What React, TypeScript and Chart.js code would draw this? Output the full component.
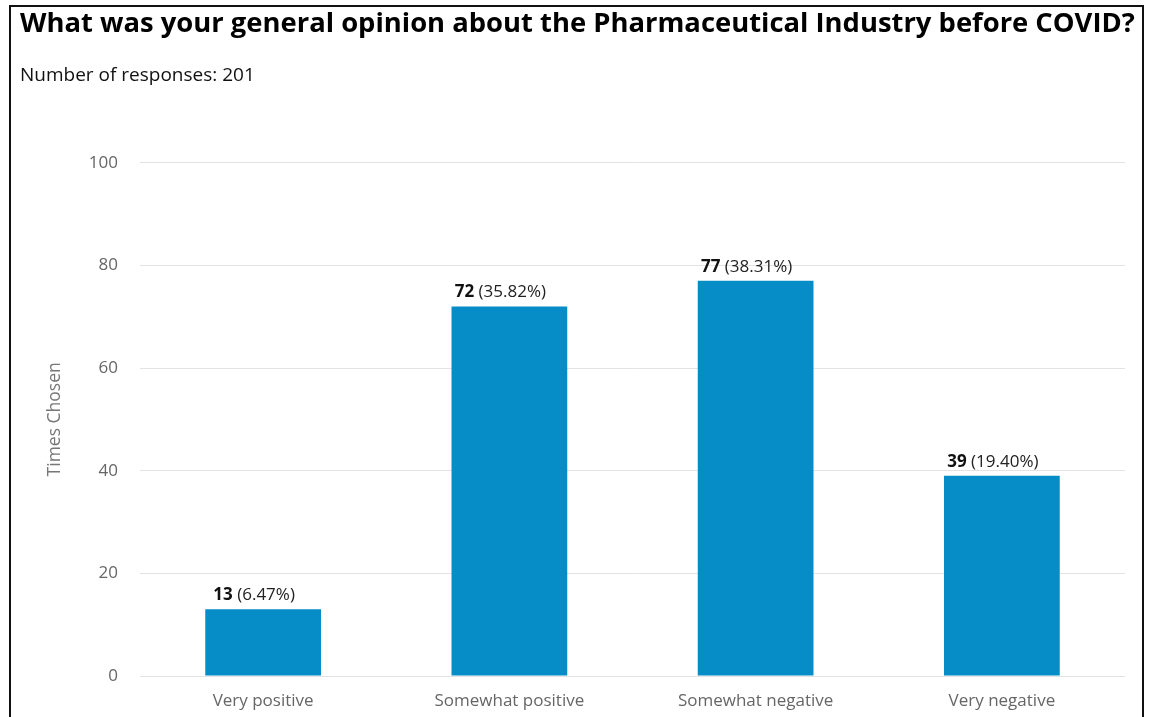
import React, { useEffect, useRef } from "react";
import { Chart, registerables } from "chart.js";

Chart.register(...registerables);

const titleText = "What was your general opinion about the Pharmaceutical Industry before COVID?";
const subtitleText = "Number of responses: 201";
const categories = ["Very positive", "Somewhat positive", "Somewhat negative", "Very negative"];
const counts = [13, 72, 77, 39];
const percents = ["6.47%", "35.82%", "38.31%", "19.40%"];
const yTicks = [0, 20, 40, 60, 80, 100];
const yAxisTitle = "Times Chosen";

const FONT = "'Open Sans', 'Noto Sans', sans-serif";

const barLabelPlugin = {
  id: "barLabels",
  afterDatasetsDraw(chart: any) {
    const ctx = chart.ctx;
    const meta = chart.getDatasetMeta(0);
    ctx.save();
    ctx.textBaseline = "middle";
    ctx.textAlign = "left";
    meta.data.forEach((bar: any, i: number) => {
      const boldPart = String(counts[i]);
      const normPart = " (" + percents[i] + ")";
      ctx.font = `bold 17px ${FONT}`;
      const wb = ctx.measureText(boldPart).width;
      ctx.font = `17px ${FONT}`;
      const wn = ctx.measureText(normPart).width;
      const total = wb + wn;
      const x0 = bar.x - 9 - total / 2;
      const y = bar.y - 14;
      ctx.fillStyle = "#111";
      ctx.font = `bold 17px ${FONT}`;
      ctx.fillText(boldPart, x0, y);
      ctx.font = `17px ${FONT}`;
      ctx.fillStyle = "#222";
      ctx.fillText(normPart, x0 + wb, y);
    });
    ctx.restore();
  },
};

export default function App() {
  const canvasRef = useRef<HTMLCanvasElement | null>(null);

  useEffect(() => {
    document.body.style.margin = "0";
    document.body.style.overflow = "hidden";
    const canvas = canvasRef.current;
    if (!canvas) return;
    const chart = new Chart(canvas, {
      type: "bar",
      data: {
        labels: categories,
        datasets: [
          {
            data: counts,
            backgroundColor: "#068DC8",
            borderWidth: 0,
            categoryPercentage: 1,
            barPercentage: 0.47,
            yAxisID: "y",
          },
        ],
      },
      options: {
        responsive: false,
        animation: false,
        devicePixelRatio: 1,
        layout: { padding: { left: 20, right: 7, top: 0, bottom: 0 } },
        plugins: {
          legend: { display: false },
          tooltip: { enabled: false },
          title: {
            display: true,
            text: titleText,
            align: "start",
            color: "#000",
            font: { family: FONT, size: 27.4, weight: "bold", lineHeight: 1.2 },
            padding: { top: 8, bottom: 0 },
          },
          subtitle: {
            display: true,
            text: subtitleText,
            align: "start",
            color: "#111",
            font: { family: FONT, size: 19, weight: "normal", lineHeight: 1.2 },
            padding: { top: 23, bottom: 76 },
          },
        },
        scales: {
          x: {
            grid: { display: false },
            border: { display: false },
            ticks: {
              color: "#666",
              font: { family: FONT, size: 17 },
              padding: 7,
              maxRotation: 0,
            },
            afterFit(scale: any) {
              scale.height = 41;
            },
          },
          y: {
            min: 0,
            max: 100,
            afterBuildTicks(scale: any) {
              scale.ticks = yTicks.map((v) => ({ value: v }));
            },
            grid: { color: "#e3e3e3", drawTicks: false, lineWidth: 1 },
            border: { display: false },
            ticks: {
              color: "#666",
              font: { family: FONT, size: 17 },
              padding: 22,
            },
            title: {
              display: true,
              text: yAxisTitle,
              color: "#777",
              font: { family: FONT, size: 17.5 },
              padding: { top: 25, bottom: 0 },
            },
            afterFit(scale: any) {
              scale.width = 120;
            },
          },
          yRight: {
            type: "linear",
            position: "right",
            min: 0,
            max: 100,
            grid: { display: false },
            border: { display: false },
            ticks: { display: false },
            afterFit(scale: any) {
              scale.width = 20;
            },
          },
        },
      },
      plugins: [barLabelPlugin],
    });
    return () => chart.destroy();
  }, []);

  return (
    <div style={{ position: "relative", width: 1152, height: 717, overflow: "hidden", background: "#fff" }}>
      <canvas ref={canvasRef} width={1152} height={717} style={{ position: "absolute", left: 0, top: 0 }} />
      <div
        style={{
          position: "absolute",
          left: 9,
          top: 5,
          width: 1135,
          height: 712,
          borderLeft: "2px solid #111",
          borderRight: "2px solid #111",
          borderTop: "2px solid #111",
          boxSizing: "border-box",
          pointerEvents: "none",
        }}
      />
    </div>
  );
}
